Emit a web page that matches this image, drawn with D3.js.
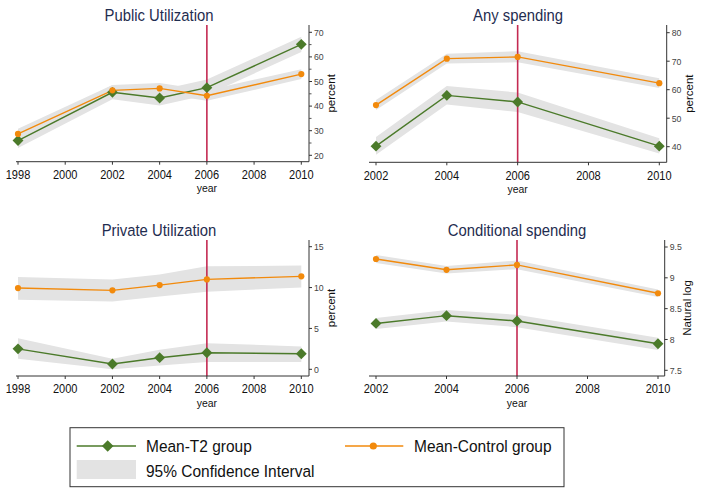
<!DOCTYPE html>
<html><head><meta charset="utf-8">
<script src="https://cdn.jsdelivr.net/npm/d3@7/dist/d3.min.js"></script>
<style>body{margin:0;background:#fff;}svg{display:block;font-family:"Liberation Sans",Arial,sans-serif;}</style>
</head><body><svg id="c" width="704" height="498"></svg>
<script>
// ---- data ----
const yearsA = [1998, 2002, 2004, 2006, 2010];
const yearsB = [2002, 2004, 2006, 2010];

const pubT2 = [26.0, 45.6, 43.3, 47.5, 65.1];
const pubT2Lo = [23.0, 42.8, 40.2, 44.5, 62.0];
const pubT2Hi = [29.0, 48.6, 46.5, 50.8, 68.2];
const pubCtl = [28.7, 46.4, 47.2, 44.2, 53.0];
const pubCtlLo = [26.8, 44.4, 45.0, 42.2, 51.0];
const pubCtlHi = [30.8, 48.6, 49.4, 46.4, 55.0];

const anyT2 = [40.2, 58.0, 55.7, 40.2];
const anyT2Lo = [37.2, 54.8, 52.2, 37.6];
const anyT2Hi = [43.4, 61.3, 59.0, 43.0];
const anyCtl = [54.6, 70.9, 71.5, 62.3];
const anyCtlLo = [52.9, 69.2, 69.6, 60.6];
const anyCtlHi = [56.4, 72.6, 73.5, 64.0];

const privT2 = [2.5, 0.65, 1.42, 2.03, 1.9];
const privT2Lo = [1.3, 0.0, 0.45, 0.9, 0.9];
const privT2Hi = [3.8, 1.3, 2.4, 3.2, 2.8];
const privCtl = [9.94, 9.66, 10.3, 11.0, 11.37];
const privCtlLo = [8.5, 8.3, 8.9, 9.5, 10.0];
const privCtlHi = [11.3, 11.0, 11.6, 12.6, 12.7];

const condT2 = [8.26, 8.386, 8.30, 7.93];
const condT2Lo = [8.17, 8.29, 8.20, 7.83];
const condT2Hi = [8.35, 8.48, 8.40, 8.03];
const condCtl = [9.305, 9.13, 9.21, 8.75];
const condCtlLo = [9.24, 9.07, 9.14, 8.69];
const condCtlHi = [9.37, 9.19, 9.28, 8.81];

const ticksA = [1998, 2000, 2002, 2004, 2006, 2008, 2010];
const ticksB = [2002, 2004, 2006, 2008, 2010];
const yTicksPub = [20, 30, 40, 50, 60, 70];
const yMinorPub = [25, 35, 45, 55, 65];
const yTicksAny = [40, 50, 60, 70, 80];
const yTicksPriv = [0, 5, 10, 15];
const yTicksCond = [7.5, 8, 8.5, 9, 9.5];
const policyYear = 2006;

const titles = ["Public Utilization", "Any spending", "Private Utilization", "Conditional spending"];
const yLabels = ["percent", "percent", "percent", "Natural log"];
const legendLabels = ["Mean-T2 group", "Mean-Control group", "95% Confidence Interval"];

// ---- styling ----
const GREEN = "#4b7a2a", ORANGE = "#f28a0c", BAND = "#e3e3e3", RED = "#c42a52", TITLE = "#1f2d50";

const svg = d3.select("#c");

// text helper with slight horizontal compression (as in the reference)
function txt(g, x, y, s, size, sx, anchor, fill) {
  return g.append("text").attr("transform", `translate(${x},${y}) scale(${sx},1)`)
    .attr("text-anchor", anchor).attr("font-size", size).attr("fill", fill).text(s);
}

const panels = [
  {title: titles[0], ylab: yLabels[0], years: yearsA, xt: ticksA, yt: yTicksPub, ym: yMinorPub,
   xd: [1998, 2010], xr: [18, 301.3], xl: [16, 309], yd: [20, 70], yr: [155.3, 32.3], top: 25, bot: 161.7,
   t2: pubT2, t2lo: pubT2Lo, t2hi: pubT2Hi, c: pubCtl, clo: pubCtlLo, chi: pubCtlHi, tx: 159},
  {title: titles[1], ylab: yLabels[1], years: yearsB, xt: ticksB, yt: yTicksAny, ym: [],
   xd: [2002, 2010], xr: [376, 659.3], xl: [369, 666.7], yd: [40, 80], yr: [146.7, 32.7], top: 25, bot: 162.3,
   t2: anyT2, t2lo: anyT2Lo, t2hi: anyT2Hi, c: anyCtl, clo: anyCtlLo, chi: anyCtlHi, tx: 518},
  {title: titles[2], ylab: yLabels[2], years: yearsA, xt: ticksA, yt: yTicksPriv, ym: [],
   xd: [1998, 2010], xr: [18, 301.3], xl: [16, 309], yd: [0, 15], yr: [369.3, 246.7], top: 240, bot: 376,
   t2: privT2, t2lo: privT2Lo, t2hi: privT2Hi, c: privCtl, clo: privCtlLo, chi: privCtlHi, tx: 159},
  {title: titles[3], ylab: yLabels[3], years: yearsB, xt: ticksB, yt: yTicksCond, ym: [],
   xd: [2002, 2010], xr: [376, 658], xl: [369, 664.7], yd: [7.5, 9.5], yr: [370.3, 247], top: 240, bot: 376,
   t2: condT2, t2lo: condT2Lo, t2hi: condT2Hi, c: condCtl, clo: condCtlLo, chi: condCtlHi, tx: 517}
];

panels.forEach(p => {
  const x = d3.scaleLinear().domain(p.xd).range(p.xr);
  const y = d3.scaleLinear().domain(p.yd).range(p.yr);
  const g = svg.append("g");
  const xAxisX0 = p.xl[0], xAxisX1 = p.xl[1];

  // bands
  const area = d3.area().x(d => x(d.yr)).y0(d => y(d.lo)).y1(d => y(d.hi));
  [[p.t2lo, p.t2hi], [p.clo, p.chi]].forEach(([lo, hi]) => {
    const data = p.years.map((yr, i) => ({yr, lo: lo[i], hi: hi[i]}));
    g.append("path").attr("d", area(data)).attr("fill", BAND);
  });

  // policy line
  g.append("line").attr("x1", x(policyYear)).attr("x2", x(policyYear))
    .attr("y1", p.top).attr("y2", p.bot).attr("stroke", RED).attr("stroke-width", 1.6);

  // lines
  const line = d3.line().x(d => x(d.yr)).y(d => y(d.v));
  const t2 = p.years.map((yr, i) => ({yr, v: p.t2[i]}));
  const ct = p.years.map((yr, i) => ({yr, v: p.c[i]}));
  g.append("path").attr("d", line(t2)).attr("fill", "none").attr("stroke", GREEN).attr("stroke-width", 1.4);
  g.append("path").attr("d", line(ct)).attr("fill", "none").attr("stroke", ORANGE).attr("stroke-width", 1.4);
  g.selectAll(null).data(t2).enter().append("path")
    .attr("d", d3.symbol(d3.symbolDiamond2, 75)())
    .attr("transform", d => `translate(${x(d.yr)},${y(d.v)})`).attr("fill", GREEN);
  g.selectAll(null).data(ct).enter().append("circle")
    .attr("cx", d => x(d.yr)).attr("cy", d => y(d.v)).attr("r", 3.1).attr("fill", ORANGE);

  // x axis
  g.append("line").attr("x1", xAxisX0).attr("x2", xAxisX1).attr("y1", p.bot).attr("y2", p.bot)
    .attr("stroke", "#333").attr("stroke-width", 1);
  p.xt.forEach(t => {
    g.append("line").attr("x1", x(t)).attr("x2", x(t)).attr("y1", p.bot).attr("y2", p.bot + 3).attr("stroke", "#333");
    txt(g, x(t), p.bot + 17.3, t, 12, 0.92, "middle", "#111");
  });
  txt(g, x(policyYear), p.bot + 30.5, "year", 11, 0.95, "middle", "#111");

  // y axis (right)
  g.append("line").attr("x1", xAxisX1).attr("x2", xAxisX1).attr("y1", p.top).attr("y2", p.bot)
    .attr("stroke", "#333").attr("stroke-width", 1);
  p.yt.forEach(t => {
    g.append("line").attr("x1", xAxisX1).attr("x2", xAxisX1 + 3).attr("y1", y(t)).attr("y2", y(t)).attr("stroke", "#333");
    txt(g, xAxisX1 + 5, y(t) + 3.3, t, 9.5, 0.92, "start", "#444");
  });
  p.ym.forEach(t => {
    g.append("line").attr("x1", xAxisX1).attr("x2", xAxisX1 + 2.5).attr("y1", y(t)).attr("y2", y(t)).attr("stroke", "#555");
  });
  g.append("text").attr("transform", `translate(${xAxisX1 + 26},${(p.top + p.bot) / 2}) rotate(-90)`)
    .attr("text-anchor", "middle").attr("font-size", 11.5).attr("fill", "#111").text(p.ylab);

  // title
  txt(g, p.tx, p.top - 4, p.title, 16.5, 0.9, "middle", TITLE);
});

// legend
const lg = svg.append("g");
lg.append("rect").attr("x", 70).attr("y", 427.7).attr("width", 494).attr("height", 59)
  .attr("fill", "#fff").attr("stroke", "#333").attr("stroke-width", 1);
lg.append("line").attr("x1", 76.7).attr("x2", 136).attr("y1", 446).attr("y2", 446).attr("stroke", GREEN).attr("stroke-width", 1.5);
lg.append("path").attr("d", d3.symbol(d3.symbolDiamond2, 85)()).attr("transform", "translate(107.7,446)").attr("fill", GREEN);
txt(lg, 146, 452, legendLabels[0], 17, 0.91, "start", "#111");
lg.append("line").attr("x1", 345).attr("x2", 403.3).attr("y1", 446).attr("y2", 446).attr("stroke", ORANGE).attr("stroke-width", 1.5);
lg.append("circle").attr("cx", 373.3).attr("cy", 446).attr("r", 3.6).attr("fill", ORANGE);
txt(lg, 414, 452, legendLabels[1], 17, 0.91, "start", "#111");
lg.append("rect").attr("x", 76.7).attr("y", 460).attr("width", 59.3).attr("height", 19).attr("fill", BAND);
txt(lg, 146, 477, legendLabels[2], 17, 0.91, "start", "#111");
</script></body></html>
